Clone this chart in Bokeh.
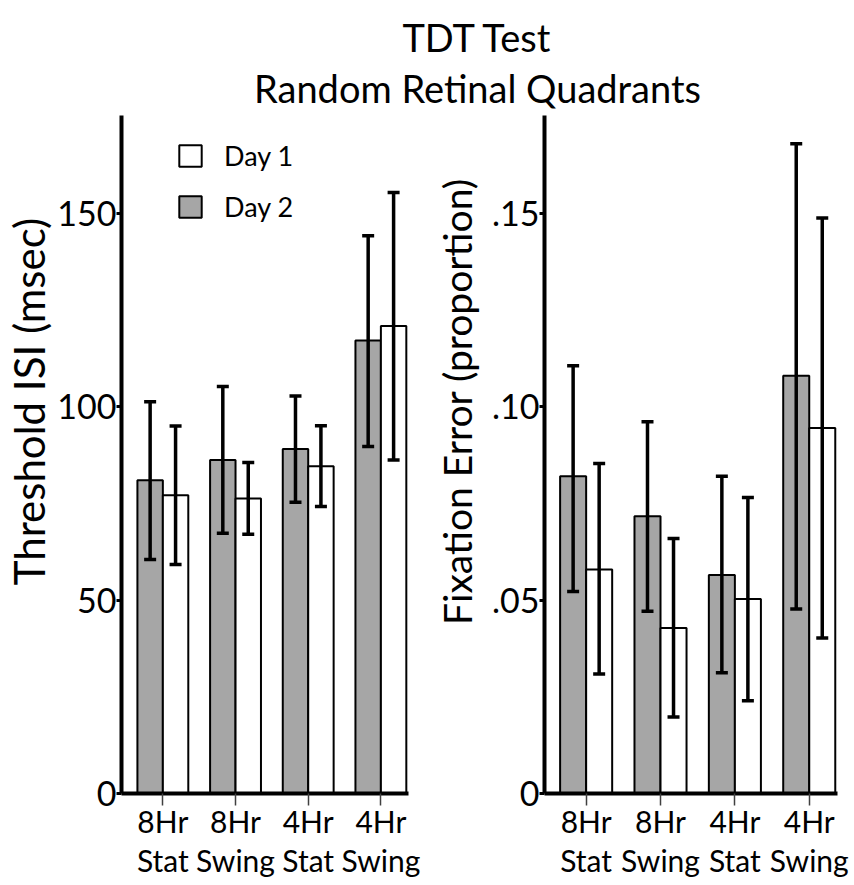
import numpy as np
from bokeh.plotting import figure
from bokeh.models import (Range1d, FixedTicker, Whisker, TeeHead, ColumnDataSource,
                          Legend, LegendItem)
from bokeh.layouts import column, row
from bokeh.core.properties import value
from bokeh.embed import file_html
from bokeh.resources import INLINE

# ---------------- data ----------------
title_lines = ["TDT Test", "Random Retinal Quadrants"]
categories = ["8Hr Stat", "8Hr Swing", "4Hr Stat", "4Hr Swing"]
tick_labels = ["8Hr\nStat", "8Hr\nSwing", "4Hr\nStat", "4Hr\nSwing"]
series_names = ["Day 1", "Day 2"]
y_titles = ["Threshold ISI (msec)", "Fixation Error (proportion)"]

# Threshold ISI (msec)
isi_day2 = [81.0, 86.2, 89.1, 117.1]
isi_day2_lo = [60.5, 67.3, 75.3, 89.7]
isi_day2_hi = [101.3, 105.2, 102.8, 144.2]
isi_day1 = [77.1, 76.3, 84.6, 120.9]
isi_day1_lo = [59.2, 67.0, 74.2, 86.2]
isi_day1_hi = [95.0, 85.6, 95.1, 155.4]
isi_ticks = [0, 50, 100, 150]
isi_tick_labels = ["0", "50", "100", "150"]

# Fixation error (proportion)
fix_day2 = [0.0820, 0.0717, 0.0565, 0.1080]
fix_day2_lo = [0.0522, 0.0471, 0.0312, 0.0477]
fix_day2_hi = [0.1106, 0.0961, 0.0820, 0.1680]
fix_day1 = [0.0579, 0.0428, 0.0503, 0.0945]
fix_day1_lo = [0.0309, 0.0198, 0.0240, 0.0402]
fix_day1_hi = [0.0853, 0.0659, 0.0765, 0.1488]
fix_ticks = [0, 0.05, 0.10, 0.15]
fix_tick_labels = ["0", ".05", ".10", ".15"]

# ---------------- style ----------------
FONT = "Lato"
GRAY = "#a6a6a6"
BAR_W = 0.35
PANEL_H = 770
LAB_W = 50
TICK_BORDER = 64


def make_ylabel(text, size, standoff):
    """Narrow strip whose (empty) y axis carries the rotated axis title.
    Its frame is centred a little above the bar panel's centre, as in the source."""
    f = figure(frame_width=1, frame_height=572, x_range=Range1d(0, 1),
               y_range=Range1d(0, 1), output_backend="svg",
               toolbar_location=None, x_axis_type=None, title=None,
               min_border_left=LAB_W - 1, min_border_right=0,
               min_border_top=0, min_border_bottom=PANEL_H - 572)
    f.outline_line_color = None
    f.grid.visible = False
    ya = f.yaxis[0]
    ya.ticker = FixedTicker(ticks=[])
    ya.axis_line_color = None
    ya.major_tick_line_color = None
    ya.minor_tick_line_color = None
    ya.axis_label = text
    ya.axis_label_text_font = FONT
    ya.axis_label_text_font_size = size
    ya.axis_label_text_font_style = "normal"
    ya.axis_label_text_color = "black"
    ya.axis_label_standoff = standoff
    return f


def make_panel(frame_w, right_border, x_start, y_end, d2, d2lo, d2hi, d1, d1lo, d1hi,
               yticks, yticklabels, legend=False):
    p = figure(frame_width=frame_w, frame_height=678, output_backend="svg",
               toolbar_location=None, title=None,
               x_range=Range1d(x_start, 3.38), y_range=Range1d(0, y_end),
               min_border_left=TICK_BORDER, min_border_right=right_border,
               min_border_top=0, min_border_bottom=PANEL_H - 678)
    p.outline_line_color = None
    p.grid.visible = False
    p.background_fill_color = "white"

    idx = np.arange(len(categories))
    x2 = idx - BAR_W / 2
    x1 = idx + BAR_W / 2

    src2 = ColumnDataSource(dict(x=x2, top=d2, lo=d2lo, hi=d2hi))
    src1 = ColumnDataSource(dict(x=x1, top=d1, lo=d1lo, hi=d1hi))

    r2 = p.vbar(x="x", top="top", bottom=0, width=BAR_W, source=src2,
                fill_color=GRAY, line_color="black", line_width=2)
    r1 = p.vbar(x="x", top="top", bottom=0, width=BAR_W, source=src1,
                fill_color="white", line_color="black", line_width=2)

    for src in (src2, src1):
        w = Whisker(base="x", upper="hi", lower="lo", source=src, dimension="height",
                    line_width=3.5, line_color="black", level="annotation",
                    upper_head=TeeHead(size=12, line_width=3.5, line_color="black"),
                    lower_head=TeeHead(size=12, line_width=3.5, line_color="black"))
        p.add_layout(w)

    # y axis
    ya = p.yaxis[0]
    ya.ticker = FixedTicker(ticks=yticks)
    ya.major_label_overrides = {t: l for t, l in zip(yticks, yticklabels)}
    ya.axis_line_width = 4
    ya.major_tick_line_width = 3
    ya.major_tick_out = 5
    ya.major_tick_in = 0
    ya.minor_tick_line_color = None
    ya.major_label_text_font = FONT
    ya.major_label_text_font_size = "34px"
    ya.major_label_text_color = "black"
    ya.major_label_standoff = 0

    # x axis
    xa = p.xaxis[0]
    xa.ticker = FixedTicker(ticks=list(idx))
    xa.major_label_overrides = {int(i): l for i, l in zip(idx, tick_labels)}
    xa.axis_line_width = 4
    xa.major_tick_out = 12
    xa.major_tick_in = 0
    xa.major_tick_line_width = 1.5
    xa.major_tick_line_color = "#404040"
    xa.minor_tick_line_color = None
    xa.major_label_text_font = FONT
    xa.major_label_text_font_size = "30px"
    xa.major_label_text_color = "black"
    xa.major_label_text_line_height = 1.1
    xa.major_label_standoff = -3

    if legend:
        lg = Legend(items=[LegendItem(label=series_names[0], renderers=[r1]),
                           LegendItem(label=series_names[1], renderers=[r2])],
                    location=(55, 570), orientation="vertical",
                    glyph_width=28, glyph_height=27, label_height=27,
                    label_standoff=20, spacing=18, padding=0, margin=0,
                    label_text_font=FONT, label_text_font_size="27px",
                    label_text_color="black",
                    border_line_color=None, background_fill_alpha=0)
        p.add_layout(lg)
    return p


lab1 = make_ylabel(y_titles[0], "42px", 0)
p1 = make_panel(287, 22, -0.569, 175.3, isi_day2, isi_day2_lo, isi_day2_hi,
                isi_day1, isi_day1_lo, isi_day1_hi, isi_ticks, isi_tick_labels,
                legend=True)
lab2 = make_ylabel(y_titles[1], "39px", 0)
p2 = make_panel(293, 12, -0.56, 0.1753, fix_day2, fix_day2_lo, fix_day2_hi,
                fix_day1, fix_day1_lo, fix_day1_hi, fix_ticks, fix_tick_labels)

tfig = figure(width=854, height=115, x_range=Range1d(0, 854), y_range=Range1d(0, 115),
              output_backend="svg", toolbar_location=None, x_axis_type=None,
              y_axis_type=None, min_border=0, title=None)
tfig.outline_line_color = None
tfig.text(x=[477, 477], y=[79, 28], text=title_lines, text_align="center",
          text_baseline="alphabetic", text_font=value(FONT), text_font_size="38px",
          text_color="black")

layout = column(tfig, row(lab1, p1, lab2, p2))

open("out.html", "w").write(file_html(layout, INLINE))
